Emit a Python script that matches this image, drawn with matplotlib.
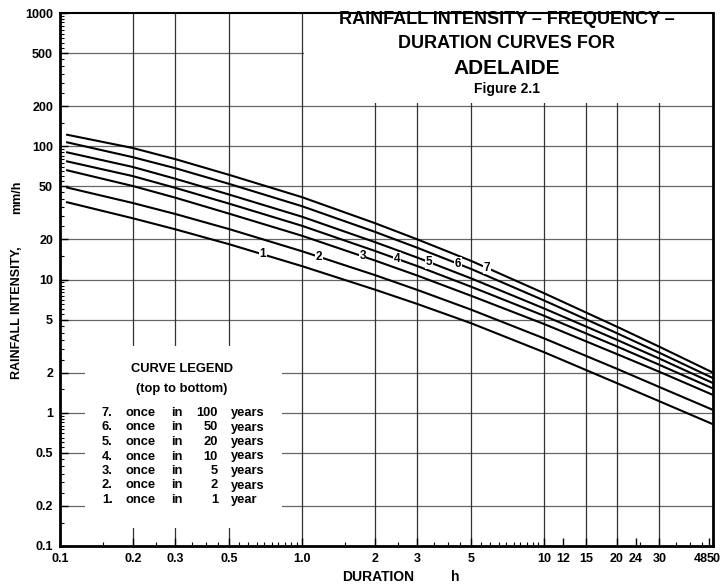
import matplotlib.pyplot as plt
import numpy as np
from matplotlib.patches import Rectangle
from matplotlib.transforms import blended_transform_factory, offset_copy
from matplotlib.ticker import FixedLocator, FixedFormatter, LogLocator, NullFormatter

plt.rcParams['font.family'] = ['Liberation Sans', 'DejaVu Sans']
plt.rcParams['font.weight'] = 'bold'

# storm duration (h) and rainfall intensity (mm/h) for each return period
durations = [0.107, 0.2, 0.3, 0.5, 1, 2, 3, 5, 10, 20, 30, 50]
ari_1 = [38, 28.8, 23.8, 18.4, 12.6, 8.4, 6.55, 4.7, 2.85, 1.67, 1.22, 0.82]
ari_2 = [49, 37.5, 31.0, 23.9, 16.3, 10.8, 8.35, 5.94, 3.62, 2.14, 1.56, 1.05]
ari_5 = [66, 50.3, 41.1, 31.2, 21.3, 13.9, 10.7, 7.55, 4.64, 2.76, 2.03, 1.36]
ari_10 = [77, 59.7, 48.7, 37.1, 25.3, 16.4, 12.6, 8.83, 5.35, 3.15, 2.29, 1.52]
ari_20 = [90, 69.9, 57.0, 43.4, 29.6, 19.1, 14.6, 10.2, 6.07, 3.53, 2.55, 1.67]
ari_50 = [107, 82.8, 68.4, 52.2, 35.5, 22.8, 17.3, 12.0, 6.97, 3.96, 2.82, 1.82]
ari_100 = [122, 97, 80, 61, 41.5, 26.5, 20.0, 13.8, 7.9, 4.43, 3.13, 2.0]

curve_ids = ['1', '2', '3', '4', '5', '6', '7']
curve_label_at = [0.69, 1.18, 1.78, 2.48, 3.35, 4.4, 5.8]
return_periods = [100, 50, 20, 10, 5, 2, 1]

x_ticks = [0.1, 0.2, 0.3, 0.5, 1, 2, 3, 5, 10, 12, 15, 20, 24, 30, 48, 50]
x_tick_labels = ['0.1', '0.2', '0.3', '0.5', '1.0', '2', '3', '5', '10', '12',
                 '15', '20', '24', '30', '', '']
x_grid = [0.2, 0.3, 0.5, 1, 2, 3, 5, 10, 15, 20, 30]
y_ticks = [0.1, 0.2, 0.5, 1, 2, 5, 10, 20, 50, 100, 200, 500, 1000]
y_tick_labels = ['0.1', '0.2', '0.5', '1', '2', '5', '10', '20', '50', '100',
                 '200', '500', '1000']

W, H = 723, 587


def fx(px):
    return px / W


def fy(py):
    return 1 - py / H


fig = plt.figure(figsize=(W / 100, H / 100), dpi=100)
ax = fig.add_axes([fx(60), fy(546), 653 / W, 533 / H])
ax.set_xscale('log')
ax.set_yscale('log')
ax.set_xlim(0.1, 50)
ax.set_ylim(0.1, 1000)

# grid
for v in y_ticks[1:-1]:
    ax.axhline(v, color='#666666', lw=0.9, zorder=1)
for v in x_grid:
    ax.axvline(v, color='#333333', lw=0.9, zorder=1)

# clear spaces for the heading and the legend
ax.add_patch(Rectangle((1.02, 210), 50 - 1.02, 1000 - 210, facecolor='white',
                       edgecolor='none', zorder=2))
ax.add_patch(Rectangle((0.127, 0.136), 0.826 - 0.127, 3.19 - 0.136,
                       facecolor='white', edgecolor='none', zorder=2))

curves = [ari_1, ari_2, ari_5, ari_10, ari_20, ari_50, ari_100]
lx = np.log10(durations)
for ys, cid, xl in zip(curves, curve_ids, curve_label_at):
    ax.plot(durations, ys, color='black', lw=1.5, zorder=3)
    yl = 10 ** np.interp(np.log10(xl), lx, np.log10(ys))
    ax.text(xl, yl, cid, ha='center', va='center', fontsize=8.5, zorder=4,
            bbox=dict(facecolor='white', edgecolor='none', pad=0.5))

# ticks
ax.xaxis.set_major_locator(FixedLocator(x_ticks))
ax.xaxis.set_major_formatter(FixedFormatter(x_tick_labels))
ax.yaxis.set_major_locator(FixedLocator(y_ticks))
ax.yaxis.set_major_formatter(FixedFormatter(y_tick_labels))
ax.xaxis.set_minor_locator(LogLocator(base=10, subs=np.arange(1, 10, 0.5), numticks=30))
ax.yaxis.set_minor_locator(LogLocator(base=10, subs=np.arange(1, 10, 0.5), numticks=30))
ax.xaxis.set_minor_formatter(NullFormatter())
ax.yaxis.set_minor_formatter(NullFormatter())
ax.tick_params(which='major', direction='in', length=6, width=1, labelsize=9)
ax.tick_params(which='minor', direction='in', length=3, width=0.8)
ax.tick_params(axis='x', which='both', pad=5)
ax.tick_params(axis='y', which='both', pad=5)

# the last two duration labels sit side by side at the right edge
btrans = blended_transform_factory(ax.transData, ax.transAxes)
ax.text(48, 0, '48', ha='right', va='top', fontsize=9,
        transform=offset_copy(btrans, fig=fig, x=-1, y=-5, units='points'))
ax.text(50, 0, '50', ha='left', va='top', fontsize=9,
        transform=offset_copy(btrans, fig=fig, x=-4.5, y=-5, units='points'))

for side, lw in (('left', 2), ('bottom', 2), ('right', 2), ('top', 1.5)):
    ax.spines[side].set_linewidth(lw)
    ax.spines[side].set_zorder(5)

# heading
cx = fx(507)
fig.text(cx, fy(20), 'RAINFALL INTENSITY \u2013 FREQUENCY \u2013', ha='center', va='center', fontsize=13)
fig.text(cx, fy(44), 'DURATION CURVES FOR', ha='center', va='center', fontsize=13)
fig.text(cx, fy(68), 'ADELAIDE', ha='center', va='center', fontsize=15)
fig.text(cx, fy(89), 'Figure 2.1', ha='center', va='center', fontsize=10)

# axis titles
fig.text(fx(17), fy(313), 'RAINFALL INTENSITY,', rotation=90, ha='center', va='center', fontsize=9)
fig.text(fx(17), fy(197), 'mm/h', rotation=90, ha='center', va='center', fontsize=9)
fig.text(fx(378), fy(577), 'DURATION', ha='center', va='center', fontsize=10)
fig.text(fx(455), fy(577), 'h', ha='center', va='center', fontsize=10)

# legend
fs = 9.3
fig.text(fx(182), fy(369), 'CURVE LEGEND', ha='center', va='center', fontsize=fs)
fig.text(fx(182), fy(389), '(top to bottom)', ha='center', va='center', fontsize=fs)
for i, rp in enumerate(return_periods):
    y = fy(413 + i * 14.5)
    fig.text(fx(102), y, f'{7 - i}.', ha='left', va='center', fontsize=fs)
    fig.text(fx(125), y, 'once', ha='left', va='center', fontsize=fs)
    fig.text(fx(171), y, 'in', ha='left', va='center', fontsize=fs)
    fig.text(fx(218), y, str(rp), ha='right', va='center', fontsize=fs)
    fig.text(fx(231), y, 'years' if rp > 1 else 'year', ha='left', va='center', fontsize=fs)

fig.savefig('out.png', dpi=100)
